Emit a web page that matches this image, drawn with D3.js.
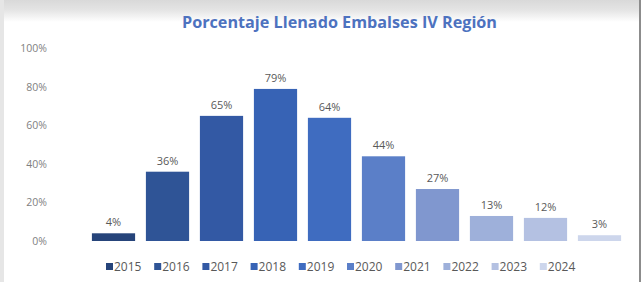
<!DOCTYPE html>
<html>
<head>
<meta charset="utf-8">
<script src="https://cdn.jsdelivr.net/npm/d3@7"></script>
<style>
  body { margin: 0; background: #fff; }
  svg { display: block; }
</style>
</head>
<body>
<svg width="641" height="282"></svg>
<script>
// data
const years = ["2015", "2016", "2017", "2018", "2019", "2020", "2021", "2022", "2023", "2024"];
const fill = [0.04, 0.36, 0.65, 0.79, 0.64, 0.44, 0.27, 0.13, 0.12, 0.03];
const yTicks = [0, 0.2, 0.4, 0.6, 0.8, 1.0];
const colors = ["#26447a", "#2f5496", "#3359a4", "#3763b5", "#3f6cc0",
                "#5b7fc8", "#8097cf", "#9eb0da", "#b4c1e2", "#cdd6ec"];

const svg = d3.select("svg");
const width = +svg.attr("width");
const height = +svg.attr("height");

// frame: grey band on top, strip on the left, line on the right
const defs = svg.append("defs");
const grad = defs.append("linearGradient")
    .attr("id", "topfade").attr("x1", 0).attr("y1", 0).attr("x2", 0).attr("y2", 1);
grad.append("stop").attr("offset", "0%").attr("stop-color", "#d9d9d9");
grad.append("stop").attr("offset", "45%").attr("stop-color", "#e4e4e4");
grad.append("stop").attr("offset", "100%").attr("stop-color", "#ffffff");
svg.append("rect").attr("x", 0).attr("y", 0).attr("width", width).attr("height", 22)
    .attr("fill", "url(#topfade)");
svg.append("rect").attr("x", 0).attr("y", 0).attr("width", 4).attr("height", height)
    .attr("fill", "#e6e6e6");
svg.append("rect").attr("x", 639).attr("y", 0).attr("width", 2).attr("height", height)
    .attr("fill", "#8c8c8c");

const x = d3.scaleBand()
    .domain(years)
    .range([86.5, 626.5])
    .paddingInner(0.2)
    .paddingOuter(0.1);

const y = d3.scaleLinear()
    .domain([0, 1])
    .range([241, 48.5]);

// title
svg.append("text")
    .attr("x", 339.5)
    .attr("y", 28)
    .attr("text-anchor", "middle")
    .attr("font-family", "'Open Sans', sans-serif")
    .attr("font-weight", "bold")
    .attr("font-size", 16.2)
    .attr("fill", "#4d72bf")
    .text("Porcentaje Llenado Embalses IV Región");

// y axis labels only
const yAxis = d3.axisLeft(y)
    .tickValues(yTicks)
    .tickFormat(d3.format(".0%"))
    .tickSize(0)
    .tickPadding(0);
const ya = svg.append("g")
    .attr("transform", "translate(47,0)")
    .call(yAxis);
ya.select(".domain").remove();
ya.selectAll("text")
    .attr("font-family", "'Open Sans', sans-serif")
    .attr("font-size", 10.5)
    .attr("fill", "#7f7f7f");

// bars
svg.append("g")
    .selectAll("rect")
    .data(fill)
    .join("rect")
    .attr("x", (d, i) => x(years[i]))
    .attr("y", d => y(d))
    .attr("width", x.bandwidth())
    .attr("height", d => y(0) - y(d))
    .attr("fill", (d, i) => colors[i]);

// value labels
svg.append("g")
    .selectAll("text")
    .data(fill)
    .join("text")
    .attr("x", (d, i) => x(years[i]) + x.bandwidth() / 2)
    .attr("y", d => y(d) - 7)
    .attr("text-anchor", "middle")
    .attr("font-family", "'Open Sans', sans-serif")
    .attr("font-size", 11)
    .attr("fill", "#595959")
    .text(d => d3.format(".0%")(d));

// legend
const legend = svg.append("g")
    .attr("transform", "translate(106,267)");
const item = legend.selectAll("g")
    .data(years)
    .join("g")
    .attr("transform", (d, i) => `translate(${i * 48.2},0)`);
item.append("rect")
    .attr("x", 0).attr("y", -4)
    .attr("width", 7).attr("height", 7)
    .attr("fill", (d, i) => colors[i]);
item.append("text")
    .attr("x", 8)
    .attr("y", 0)
    .attr("dy", "0.35em")
    .attr("font-family", "'Open Sans', sans-serif")
    .attr("font-size", 12)
    .attr("fill", "#595959")
    .text(d => d);
</script>
</body>
</html>
